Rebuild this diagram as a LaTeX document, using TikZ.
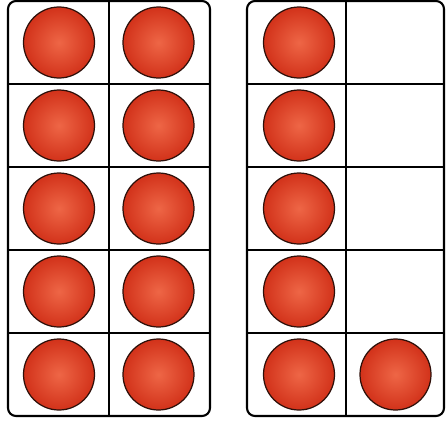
\documentclass[tikz,border=0pt]{standalone}
\usepackage{tikz}
\usetikzlibrary{positioning}
\definecolor{ballred}{HTML}{D2321A}
\definecolor{ballhi}{HTML}{EE6646}
\definecolor{ballrim}{HTML}{2E100A}

\begin{document}
\begin{tikzpicture}[
  frame/.style={draw=black, line width=1.2pt},
  counter/.style={circle, draw=ballrim, line width=0.7pt, inner sep=0pt,
    minimum size=1.42cm, shade, inner color=ballhi, outer color=ballred}
]
  \useasboundingbox (0,0) rectangle (8.92,8.56);

  % Left frame
  \draw[frame, rounded corners=0.16cm] (0.16,0.24) rectangle (4.20,8.54);
  \draw[frame] (2.18,0.24) -- (2.18,8.54);
  \draw[frame] (0.16,1.90) -- (4.20,1.90);
  \draw[frame] (0.16,3.56) -- (4.20,3.56);
  \draw[frame] (0.16,5.22) -- (4.20,5.22);
  \draw[frame] (0.16,6.88) -- (4.20,6.88);

  % Right frame
  \draw[frame, rounded corners=0.16cm] (4.94,0.24) rectangle (8.88,8.54);
  \draw[frame] (6.92,0.24) -- (6.92,8.54);
  \draw[frame] (4.94,1.90) -- (8.88,1.90);
  \draw[frame] (4.94,3.56) -- (8.88,3.56);
  \draw[frame] (4.94,5.22) -- (8.88,5.22);
  \draw[frame] (4.94,6.88) -- (8.88,6.88);

  % Counters, left frame
  \node[counter] (la1) at (1.18,7.71) {};
  \node[counter] (lb1) at (3.17,7.71) {};
  \node[counter] (la2) at (1.18,6.05) {};
  \node[counter] (lb2) at (3.17,6.05) {};
  \node[counter] (la3) at (1.18,4.39) {};
  \node[counter] (lb3) at (3.17,4.39) {};
  \node[counter] (la4) at (1.18,2.73) {};
  \node[counter] (lb4) at (3.17,2.73) {};
  \node[counter] (la5) at (1.18,1.07) {};
  \node[counter] (lb5) at (3.17,1.07) {};

  % Counters, right frame
  \node[counter] (ra1) at (5.98,7.71) {};
  \node[counter] (ra2) at (5.98,6.05) {};
  \node[counter] (ra3) at (5.98,4.39) {};
  \node[counter] (ra4) at (5.98,2.73) {};
  \node[counter] (ra5) at (5.98,1.07) {};
  \node[counter] (rb5) at (7.91,1.07) {};
\end{tikzpicture}
\end{document}
